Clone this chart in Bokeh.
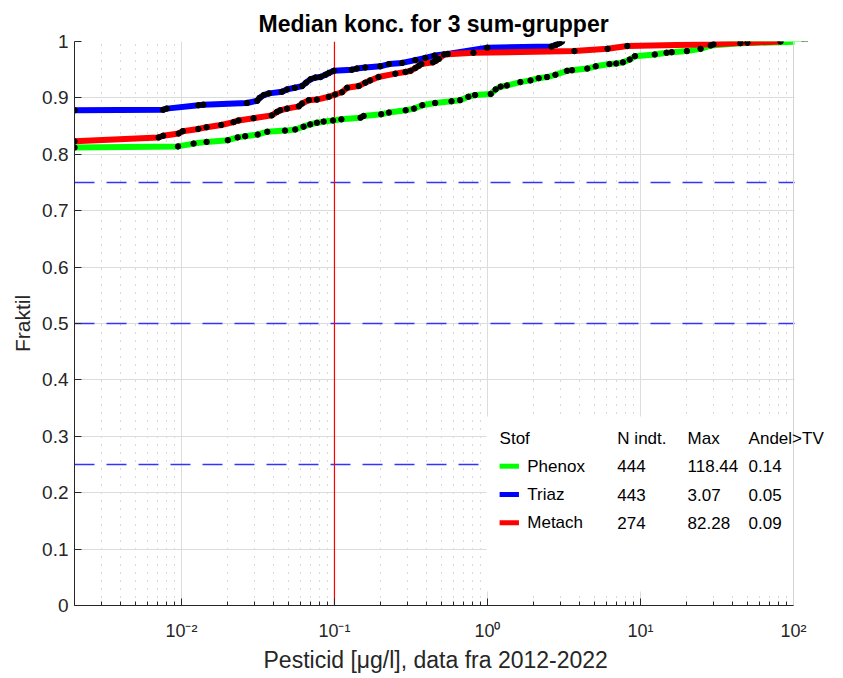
from bokeh.plotting import figure
from bokeh.models import Span, BoxAnnotation, Label, FixedTicker, CustomJSTickFormatter, ColumnDataSource, Title
from bokeh.embed import file_html
from bokeh.resources import INLINE

# ---- data ----
phenox_x = [0.002, 0.0095, 0.012, 0.0146, 0.0201, 0.0233, 0.0261, 0.0315, 0.0364, 0.0475,
            0.0554, 0.0628, 0.0694, 0.0768, 0.085, 0.0978, 0.111, 0.148, 0.155, 0.202,
            0.227, 0.292, 0.331, 0.375, 0.455, 0.582, 0.662, 0.75, 0.83, 1.05,
            1.13, 1.22, 1.34, 1.64, 1.91, 2.16, 2.45, 2.78, 3.31, 3.57,
            4.49, 5.1, 6.27, 6.94, 7.68, 8.5, 9.2, 12.4, 14.8, 16.0,
            20.1, 24.7, 28.8, 45.0, 118.44]
phenox_y = [0.812, 0.814, 0.819, 0.822, 0.825, 0.830, 0.832, 0.835, 0.840, 0.842,
            0.844, 0.849, 0.853, 0.856, 0.858, 0.860, 0.862, 0.865, 0.868, 0.871,
            0.874, 0.878, 0.881, 0.887, 0.891, 0.894, 0.896, 0.902, 0.905, 0.907,
            0.915, 0.920, 0.922, 0.928, 0.931, 0.935, 0.937, 0.941, 0.948, 0.949,
            0.952, 0.956, 0.960, 0.961, 0.963, 0.968, 0.974, 0.977, 0.980, 0.981,
            0.983, 0.987, 0.993, 0.997, 1.0]

triaz_x = [0.002, 0.0076, 0.008, 0.0129, 0.0139, 0.0268, 0.0313, 0.0324, 0.0345, 0.0373,
           0.0454, 0.049, 0.055, 0.0614, 0.0652, 0.0697, 0.075, 0.081, 0.0873, 0.0918,
           0.099, 0.13, 0.14, 0.159, 0.199, 0.227, 0.277, 0.338, 0.393, 0.45,
           0.55, 0.996, 2.62, 2.8, 2.95, 3.07]
triaz_y = [0.878, 0.879, 0.881, 0.887, 0.888, 0.891, 0.895, 0.900, 0.905, 0.908,
           0.911, 0.915, 0.918, 0.921, 0.927, 0.933, 0.936, 0.937, 0.941, 0.944,
           0.948, 0.950, 0.952, 0.954, 0.956, 0.960, 0.962, 0.967, 0.971, 0.975,
           0.978, 0.989, 0.991, 0.994, 0.997, 1.0]

metach_x = [0.002, 0.0071, 0.0076, 0.0096, 0.0102, 0.0129, 0.0146, 0.0182, 0.0219, 0.0236,
            0.0296, 0.0389, 0.042, 0.0442, 0.049, 0.0585, 0.0614, 0.068, 0.0768, 0.0918,
            0.101, 0.112, 0.121, 0.144, 0.159, 0.171, 0.194, 0.25, 0.291, 0.314,
            0.338, 0.356, 0.37, 0.44, 0.46, 0.48, 0.52, 0.81, 3.7, 6.1,
            8.2, 30.0, 50.0, 82.28]
metach_y = [0.823, 0.830, 0.833, 0.837, 0.841, 0.845, 0.848, 0.852, 0.857, 0.860,
            0.864, 0.869, 0.875, 0.878, 0.881, 0.885, 0.890, 0.896, 0.897, 0.902,
            0.906, 0.910, 0.918, 0.921, 0.927, 0.931, 0.937, 0.943, 0.946, 0.948,
            0.953, 0.957, 0.960, 0.963, 0.966, 0.969, 0.977, 0.980, 0.983, 0.987,
            0.992, 0.995, 0.998, 1.0]

series_names = ["Phenox", "Triaz", "Metach"]
series_colors = ["#00ff00", "#0000ff", "#ff0000"]
n_indt = [444, 443, 274]
max_vals = ["118.44", "3.07", "82.28"]
andel_tv = ["0.14", "0.05", "0.09"]
quartiles = [0.25, 0.5, 0.75]
threshold = 0.1
x_major = [1e-2, 1e-1, 1e0, 1e1, 1e2]
y_ticks = [i / 10 for i in range(11)]

# ---- layout ----
FONT = "Liberation Sans"
TXT = "#262626"
X_LO, X_HI = 0.002, 100.0
AXES_W = 719                      # visible axes width in px
EXTRA = 40                        # room right of the axes for legend text overflow
DECADE = AXES_W / 4.69897         # px per decade
X_FRAME_HI = X_HI * 10 ** (EXTRA / DECADE)

p = figure(frame_width=AXES_W + EXTRA, frame_height=564, x_axis_type="log",
           x_range=(X_LO, X_FRAME_HI), y_range=(0, 1),
           output_backend="svg", toolbar_location=None,
           title="Median konc. for 3 sum-grupper",
           min_border_left=74, min_border_right=2, min_border_top=41, min_border_bottom=60)

p.background_fill_color = "white"
p.border_fill_color = "white"
p.outline_line_color = None

p.title.text_font = FONT
p.title.text_font_size = "23px"
p.title.text_font_style = "bold"
p.title.text_color = "black"
p.title.align = "left"
p.title.offset = 184

minor = [m * 10.0 ** k for k in range(-3, 2) for m in range(2, 10)]
xt = FixedTicker(ticks=x_major, minor_ticks=minor)
p.xaxis.ticker = xt
p.xgrid.ticker = xt
p.xaxis.bounds = (X_LO, X_HI)
p.xaxis.formatter = CustomJSTickFormatter(code="""
const e = Math.round(Math.log10(tick));
const m = {'-':'\u207b','0':'\u2070','1':'\u00b9','2':'\u00b2','3':'\u00b3'};
return '10' + String(e).split('').map(c => m[c]).join('');
""")
yt = FixedTicker(ticks=y_ticks, minor_ticks=[])
p.yaxis.ticker = yt
p.ygrid.ticker = yt
p.yaxis.formatter = CustomJSTickFormatter(code="return String(Math.round(tick*10)/10);")

for ax in (p.xaxis[0], p.yaxis[0]):
    ax.axis_line_color = TXT
    ax.major_tick_line_color = TXT
    ax.minor_tick_line_color = TXT
    ax.major_tick_in = 7
    ax.major_tick_out = 0
    ax.minor_tick_in = 4
    ax.minor_tick_out = 0
    ax.major_label_text_font = FONT
    ax.major_label_text_color = TXT
    ax.axis_label_text_font = FONT
    ax.axis_label_text_font_style = "normal"
    ax.axis_label_text_color = TXT

p.xaxis.major_label_text_font_size = "18px"
p.yaxis.major_label_text_font_size = "19px"
p.yaxis.axis_label_text_font_size = "21px"
p.yaxis.axis_label = "Fraktil"
p.yaxis.minor_tick_in = 0
p.xaxis.major_label_standoff = 15
p.yaxis.major_label_standoff = 6
p.yaxis.axis_label_standoff = 5

# x-axis label as a Title below the axis (so it can be centred on the visible axes)
xlabel = Title(text="Pesticid [\u03bcg/l], data fra 2012-2022", align="left", offset=189,
               text_font=FONT, text_font_size="23px", text_font_style="normal",
               text_color=TXT, standoff=2)
p.add_layout(xlabel, "below")

p.xgrid.grid_line_color = "#dcdcdc"
p.ygrid.grid_line_color = "#dcdcdc"
p.xgrid.minor_grid_line_color = "#b4b4b4"
p.xgrid.minor_grid_line_dash = "1 7"
p.xgrid.minor_grid_line_width = 1

# quartile lines and threshold
for q in quartiles:
    p.add_layout(Span(location=q, dimension="width", line_color="#3333ff",
                      line_width=1.4, line_dash="20 12", level="underlay"))
p.add_layout(Span(location=threshold, dimension="height", line_color="#ff0000",
                  line_width=1.2, level="underlay"))

# legend background box (covers grid)
p.add_layout(BoxAnnotation(left=0.99, bottom=0.025, top=0.335,
                           fill_color="white", fill_alpha=1.0, line_color=None,
                           level="underlay"))

# curves
all_x = [phenox_x, triaz_x, metach_x]
all_y = [phenox_y, triaz_y, metach_y]
for xs, ys, c in zip(all_x, all_y, series_colors):
    p.line(xs, ys, line_color=c, line_width=6)
for xs, ys in zip(all_x, all_y):
    p.scatter(xs, ys, size=5.5, color="black")

# white mask right of the axes (space used only by legend text overflow)
p.add_layout(BoxAnnotation(left=X_HI * 10 ** (1.0 / DECADE), fill_color="white", fill_alpha=1.0,
                           line_color=None, level="overlay"))
# right border of the axes box
p.add_layout(Span(location=X_HI, dimension="height", line_color="#d4d4d4",
                  line_width=1, level="overlay"))

# legend table
col_x = {"swatch0": 1.20, "swatch1": 1.606, "name": 1.82, "n": 7.06, "max": 20.3, "andel": 50.9}
row_y = [0.2470, 0.1968, 0.1466]
head_y = 0.2956
LFS = "17px"

def lab(x, y, t):
    p.add_layout(Label(x=x, y=y, text=t, text_font=FONT, text_font_size=LFS,
                       text_color="black", text_baseline="middle", text_align="left",
                       level="overlay"))

lab(col_x["swatch0"], head_y, "Stof")
lab(col_x["n"], head_y, "N indt.")
lab(col_x["max"], head_y, "Max")
lab(col_x["andel"], head_y, "Andel>TV")
sw = ColumnDataSource(dict(x0=[col_x["swatch0"]] * 3, x1=[col_x["swatch1"]] * 3,
                           y=row_y, c=series_colors))
p.segment(x0="x0", y0="y", x1="x1", y1="y", line_color="c", line_width=5, source=sw)
for i, name in enumerate(series_names):
    lab(col_x["name"], row_y[i], name)
    lab(col_x["n"], row_y[i], str(n_indt[i]))
    lab(col_x["max"], row_y[i], max_vals[i])
    lab(col_x["andel"], row_y[i], andel_tv[i])

open("out.html", "w").write(file_html(p, INLINE))
